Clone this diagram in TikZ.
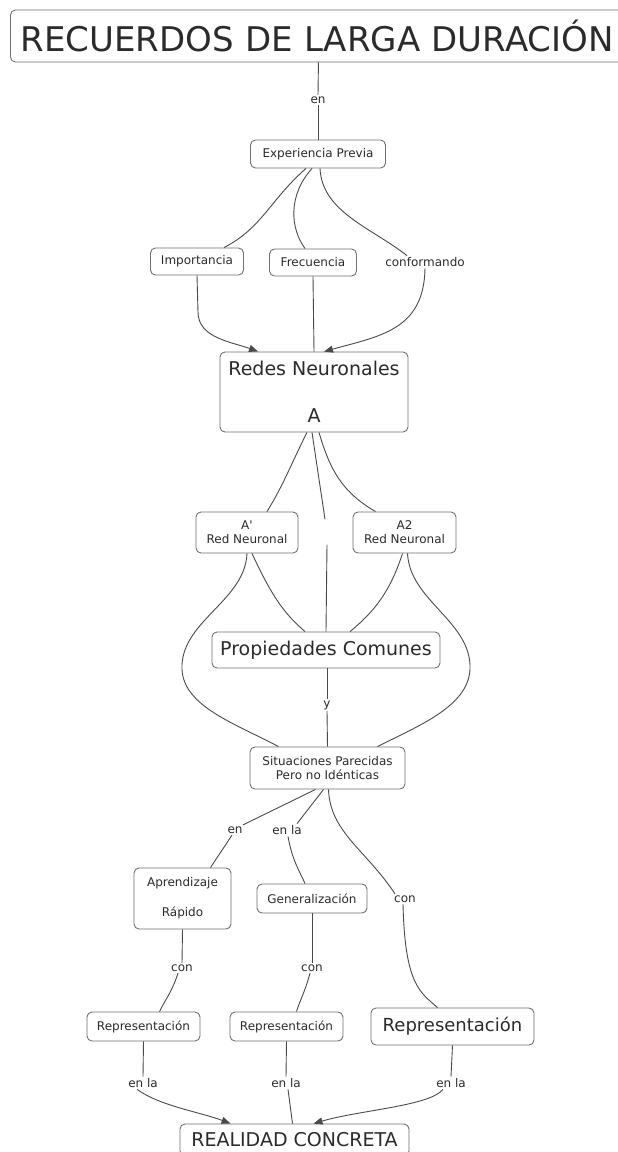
\documentclass[tikz,border=0pt]{standalone}
\usepackage{fontspec}
\setmainfont{DejaVu Sans}
\usetikzlibrary{arrows.meta}
\definecolor{edge}{HTML}{4A4A4A}
\definecolor{frame}{HTML}{707070}
\definecolor{ink}{HTML}{2B2B2B}
\begin{document}
\begin{tikzpicture}[x=1pt,y=-1pt,
  concept/.style={draw=frame, line width=0.9pt, rounded corners=5pt, fill=white,
                  text=ink, align=center, inner sep=0pt},
  smalltext/.style={font=\fontsize{12}{14}\selectfont},
  bigtext/.style={font=\fontsize{19}{23}\selectfont},
  phrase/.style={text=ink, inner sep=1.5pt, font=\fontsize{12}{14}\selectfont},
  link/.style={draw=edge, line width=0.9pt},
  tip/.style={-{Triangle[length=9pt,width=7pt]}}
]
\useasboundingbox (0,0) rectangle (618,1152);
\fill[white] (0,0) rectangle (618,1152);

% concepts
\node[concept, anchor=west, text width=620pt, align=left, inner xsep=10pt,
      minimum height=52pt, font=\fontsize{34}{40}\selectfont] (title) at (10,36) {RECUERDOS DE LARGA DURACIÓN};
\node[concept, smalltext, minimum width=135pt, minimum height=28pt] (exp) at (318,154) {Experiencia Previa};
\node[concept, smalltext, minimum width=93pt, minimum height=27pt] (imp) at (197,261.5) {Importancia};
\node[concept, smalltext, minimum width=87pt, minimum height=27pt] (freq) at (313,262.5) {Frecuencia};
\node[concept, bigtext, minimum width=188pt, minimum height=80pt] (redes) at (314,392) {Redes Neuronales\\[24pt]A};
\node[concept, smalltext, minimum width=102pt, minimum height=41pt] (a1) at (247,532.5) {A\textquotesingle\\Red Neuronal};
\node[concept, smalltext, minimum width=103pt, minimum height=41pt] (a2) at (404.5,532.5) {A2\\Red Neuronal};
\node[concept, bigtext, minimum width=228pt, minimum height=36pt] (prop) at (326,650) {Propiedades Comunes};
\node[concept, smalltext, minimum width=155pt, minimum height=42pt] (sit) at (327.5,768) {Situaciones Parecidas\\Pero no Idénticas};
\node[concept, smalltext, minimum width=97pt, minimum height=61pt] (apr) at (182.5,898.5) {Aprendizaje\\[16pt]Rápido};
\node[concept, smalltext, minimum width=110pt, minimum height=29pt] (gen) at (312,898.5) {Generalización};
\node[concept, smalltext, minimum width=113pt, minimum height=29pt] (rep1) at (143.5,1026.5) {Representación};
\node[concept, smalltext, minimum width=113pt, minimum height=29pt] (rep2) at (286.5,1026.5) {Representación};
\node[concept, minimum width=163pt, minimum height=37pt,
      font=\fontsize{18}{22}\selectfont] (rep3) at (452.5,1026.5) {Representación};
\node[concept, bigtext, minimum width=229pt, minimum height=32pt] (real) at (294.5,1140) {REALIDAD CONCRETA};

% linking phrases
\node[phrase] (en1) at (318,100) {en};
\node[phrase] (conf) at (425,262) {conformando};
\node[phrase, minimum height=25pt, inner sep=0pt] (blank) at (326,532) {};
\node[phrase] (yy) at (327,705) {y};
\node[phrase] (en2) at (235,830) {en};
\node[phrase] (enla1) at (287,830) {en la};
\node[phrase] (con1) at (405,899) {con};
\node[phrase] (con2) at (182,968) {con};
\node[phrase] (con3) at (312,968) {con};
\node[phrase] (enla2) at (143,1083) {en la};
\node[phrase] (enla3) at (286,1083) {en la};
\node[phrase] (enla4) at (451,1083) {en la};

% connectors
\draw[link] ([xshift=-12pt]title.south) -- (en1.north);
\draw[link] (en1.south) -- (exp.north);

\draw[link] ([xshift=-12pt]exp.south) .. controls (270,200) and (262,228) .. ([xshift=27pt]imp.north);
\draw[link] ([xshift=-6pt]exp.south) .. controls (288,195) and (290,228) .. ([xshift=-8pt]freq.north);
\draw[link] ([xshift=2pt]exp.south) .. controls (322,212) and (372,228) .. ([xshift=-18pt]conf.north);

\draw[link, tip] (imp.south) -- (198,312) .. controls (198,338) and (232,342) .. ([xshift=-56pt]redes.north);
\draw[link] (freq.south) -- (redes.north);
\draw[link, tip] (conf.south) .. controls (424,330) and (380,336) .. ([xshift=10pt]redes.north);

\draw[link] ([xshift=-7pt]redes.south) .. controls (292,462) and (284,484) .. ([xshift=20pt]a1.north);
\draw[link] ([xshift=5pt]redes.south) .. controls (330,470) and (342,492) .. ([xshift=-29pt]a2.north);
\draw[link] ([xshift=-2pt]redes.south) -- ([xshift=-1pt]blank.north);
\draw[link] ([xshift=1pt]blank.south) -- (prop.north);

\draw[link] (a1.south) .. controls (245,600) and (184,620) .. (182,665)
                      .. controls (180,705) and (232,722) .. ([xshift=-49pt]sit.north);
\draw[link] ([xshift=5pt]a1.south) .. controls (270,592) and (282,612) .. ([xshift=-21pt]prop.north);
\draw[link] ([xshift=-2pt]a2.south) .. controls (390,592) and (374,612) .. ([xshift=24pt]prop.north);
\draw[link] ([xshift=3pt]a2.south) .. controls (410,600) and (468,620) .. (470,665)
                      .. controls (472,705) and (420,725) .. ([xshift=50pt]sit.north);

\draw[link] ([xshift=1pt]prop.south) -- (yy.north);
\draw[link] (yy.south) -- (sit.north);

\draw[link] ([xshift=-12pt]sit.south) -- ([xshift=8pt]en2.north);
\draw[link] ([xshift=-4pt]sit.south) -- ([xshift=10pt]enla1.north);
\draw[link] ([xshift=1pt]sit.south) .. controls (330,832) and (366,850) .. ([xshift=-10pt]con1.north);

\draw[link] ([xshift=-3pt]en2.south) -- ([xshift=28pt]apr.north);
\draw[link] ([xshift=1pt]enla1.south) .. controls (292,860) and (300,872) .. ([xshift=-7pt]gen.north);
\draw[link] ([xshift=-2pt]con1.south) .. controls (405,985) and (420,992) .. ([xshift=-15pt]rep3.north);

\draw[link] (apr.south) -- (con2.north);
\draw[link] ([xshift=-4pt]con2.south) .. controls (172,992) and (165,1000) .. ([xshift=16pt]rep1.north);
\draw[link] (gen.south) -- (con3.north);
\draw[link] ([xshift=-2pt]con3.south) .. controls (305,992) and (300,1000) .. ([xshift=10pt]rep2.north);

\draw[link] (rep1.south) -- (enla2.north);
\draw[link, tip] ([xshift=-6pt]enla2.south) .. controls (160,1106) and (200,1112) .. ([xshift=-64pt]real.north);
\draw[link] (rep2.south) -- (enla3.north);
\draw[link] ([xshift=2pt]enla3.south) -- ([xshift=-2pt]real.north);
\draw[link] (rep3.south) -- (enla4.north);
\draw[link, tip] ([xshift=-8pt]enla4.south) .. controls (430,1106) and (360,1110) .. ([xshift=19pt]real.north);
\end{tikzpicture}
\end{document}
